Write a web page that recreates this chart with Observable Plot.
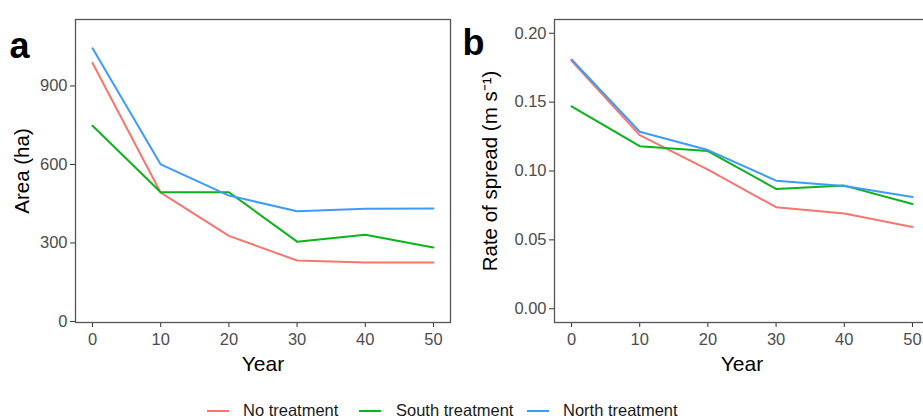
<!DOCTYPE html>
<html><head><meta charset="utf-8">
<script src="https://cdn.jsdelivr.net/npm/d3@7"></script>
<script src="https://cdn.jsdelivr.net/npm/@observablehq/plot@0.6"></script>
<style>
body{margin:0;background:#fff;}
#wrap{position:relative;width:923px;height:418px;overflow:hidden;font-family:"Liberation Sans",Arial,sans-serif;}
#pa{position:absolute;left:0;top:0;width:460px;height:380px;}
#pb{position:absolute;left:460px;top:0;width:480px;height:380px;}
#wrap svg{max-width:none !important;}
.sw{position:absolute;height:2.5px;width:22px;top:409.5px;}
.lt{position:absolute;top:402px;font-size:16.5px;line-height:16px;color:#1a1a1a;white-space:nowrap;}
</style>
</head><body>
<div id="wrap"><div id="pa"></div><div id="pb"></div><div id="leg"></div></div>
<script>
const years = [0, 10, 20, 30, 40, 50];
const seriesNames = ["No treatment", "South treatment", "North treatment"];
const seriesColors = ["#F8766D", "#0BB31C", "#3D9BFF"];
const areaNo = [988, 492, 327, 233, 225, 225];
const areaSouth = [748, 494, 494, 305, 331, 283];
const areaNorth = [1044, 600, 481, 421, 431, 432];
const rosNo = [0.180, 0.126, 0.101, 0.0737, 0.0691, 0.0594];
const rosSouth = [0.147, 0.118, 0.1145, 0.087, 0.0894, 0.0761];
const rosNorth = [0.181, 0.1285, 0.1152, 0.093, 0.0891, 0.0812];
const xTicks = [0, 10, 20, 30, 40, 50];
const areaTicks = [0, 300, 600, 900];
const rosTicks = [0, 0.05, 0.10, 0.15, 0.20];

function toRows(a, b, c) {
  const rows = [];
  [a, b, c].forEach((vals, i) => vals.forEach((v, j) => rows.push({year: years[j], value: v, series: seriesNames[i]})));
  return rows;
}
const areaData = toRows(areaNo, areaSouth, areaNorth);
const rosData = toRows(rosNo, rosSouth, rosNorth);

function panel(opts) {
  return Plot.plot({
    width: opts.width, height: 380,
    marginLeft: opts.ml, marginRight: opts.mr, marginTop: 19, marginBottom: 58,
    style: {fontFamily: '"Liberation Sans", Arial, sans-serif', color: "#4d4d4d", background: "#fff", overflow: "visible", maxWidth: "none"},
    x: {domain: [-2.5, 52.5]},
    y: {domain: opts.ydomain},
    color: {domain: seriesNames, range: seriesColors},
    marks: [
      Plot.axisX({ticks: xTicks, tickSize: 5, tickPadding: 6, fontSize: 16.5, label: null, stroke: "#333"}),
      Plot.axisY({ticks: opts.yticks, tickSize: 5, tickPadding: 3, fontSize: 16.5, label: null, tickFormat: opts.fmt, stroke: "#333"}),
      Plot.line(opts.data, {x: "year", y: "value", z: "series", stroke: "series", strokeWidth: 2}),
      Plot.frame({stroke: "#555", strokeWidth: 1.3}),
      Plot.text([opts.ylabel], {text: d => d, frameAnchor: "left", textAnchor: "middle", rotate: -90, dx: opts.ldx, fontSize: 20.5, fill: "#000"}),
      Plot.text(["Year"], {text: d => d, frameAnchor: "bottom", dy: 48, fontSize: 21, fill: "#000"}),
      Plot.text([opts.tag], {text: d => d, frameAnchor: "top-left", textAnchor: "start", dx: opts.tdx, dy: opts.tdy, fontSize: 36, fontWeight: "bold", fill: "#000"})
    ]
  });
}

document.getElementById("pa").append(panel({
  width: 460, ml: 75, mr: 10, ydomain: [-4, 1154], yticks: areaTicks, fmt: d3.format("d"),
  data: areaData, ylabel: "Area (ha)", ldx: -53, tag: "a", tdx: -66, tdy: 12.5
}));
document.getElementById("pb").append(panel({
  width: 480, ml: 94, mr: 11, ydomain: [-0.01, 0.21], yticks: rosTicks, fmt: d3.format(".2f"),
  data: rosData, ylabel: "Rate of spread (m s\u207B\u00B9)", ldx: -64, tag: "b", tdx: -92, tdy: 10
}));

const leg = document.getElementById("leg");
const swX = [207, 359, 527];
const txX = [243, 396, 563];
seriesNames.forEach((n, i) => {
  const s = document.createElement("div");
  s.className = "sw"; s.style.left = swX[i] + "px"; s.style.background = seriesColors[i];
  leg.append(s);
  const t = document.createElement("div");
  t.className = "lt"; t.style.left = txX[i] + "px"; t.textContent = n;
  leg.append(t);
});
</script>
</body></html>
